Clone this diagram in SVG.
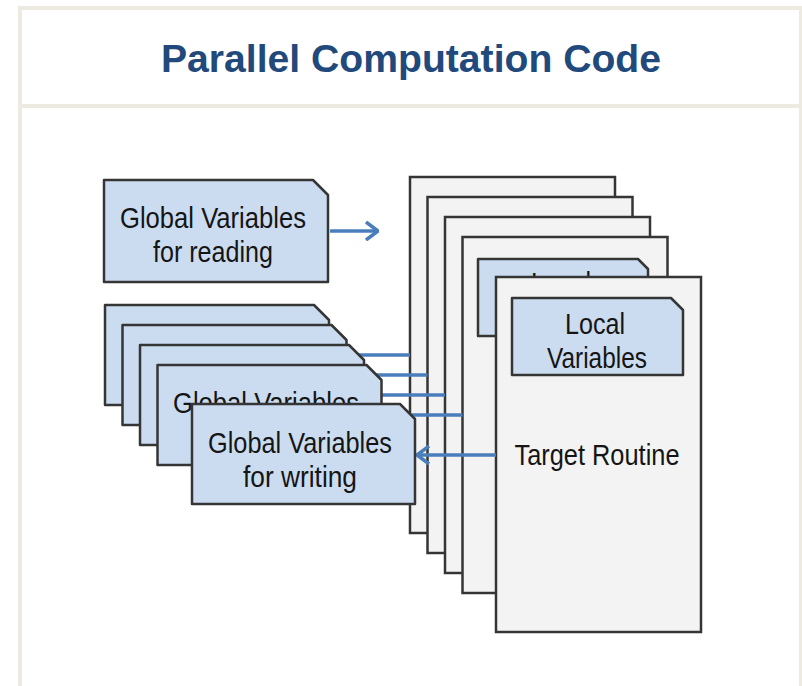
<svg xmlns="http://www.w3.org/2000/svg" width="802" height="686" viewBox="0 0 802 686">
  <defs>
    <style>
      .frame { fill: none; stroke: #edeae1; stroke-width: 4; }
      .title { font-family: "Liberation Sans", Arial, sans-serif; font-weight: bold; font-size: 39px; fill: #22497b; text-anchor: middle; }
      .lbl { font-family: "Liberation Sans", Arial, sans-serif; font-size: 29px; fill: #151515; text-anchor: middle; }
      .page { fill: #f3f3f3; stroke: #353535; stroke-width: 2.5; }
      .var { fill: #cbdcf1; stroke: #353535; stroke-width: 2.5; stroke-linejoin: round; }
      .link { fill: none; stroke: #4a7ebb; stroke-width: 3.5; }
    </style>
    <marker id="chev" viewBox="0 0 14 20" refX="13" refY="10" markerWidth="14" markerHeight="20" markerUnits="userSpaceOnUse" orient="auto">
      <path d="M1 1 L13 10 L1 19" fill="none" stroke="#4a7ebb" stroke-width="3.5"/>
    </marker>
  </defs>

  <rect width="802" height="686" fill="#ffffff"/>

  <!-- slide frame and header -->
  <g id="header">
    <rect class="frame" x="20" y="8" width="781" height="700"/>
    <line class="frame" x1="20" y1="106" x2="801" y2="106"/>
    <text class="title" x="411" y="72" textLength="500" lengthAdjust="spacingAndGlyphs">Parallel Computation Code</text>
  </g>

  <!-- stacked target routine instances -->
  <g id="routine-1"><rect class="page" x="410" y="177" width="205" height="356"/></g>
  <g id="routine-2"><rect class="page" x="427.5" y="197" width="205" height="356"/></g>
  <g id="routine-3"><rect class="page" x="445" y="217" width="205" height="356"/></g>
  <g id="routine-4">
    <rect class="page" x="462.5" y="237" width="205" height="356"/>
    <path class="var" d="M478 259 H638 L648 269 V336 H478 Z"/>
    <text class="lbl" x="561" y="293" textLength="60" lengthAdjust="spacingAndGlyphs">Local</text>
  </g>
  <g id="routine-5">
    <rect class="page" x="496" y="277" width="205" height="355"/>
    <path class="var" d="M512 298 H671 L683 310 V375 H512 Z"/>
    <text class="lbl" x="595" y="334" textLength="60" lengthAdjust="spacingAndGlyphs">Local</text>
    <text class="lbl" x="597" y="368" textLength="100" lengthAdjust="spacingAndGlyphs">Variables</text>
    <text class="lbl" x="597" y="465" textLength="165" lengthAdjust="spacingAndGlyphs">Target Routine</text>
  </g>

  <!-- connectors -->
  <g id="connectors">
    <line class="link" x1="330" y1="231" x2="378" y2="231" marker-end="url(#chev)"/>
    <line class="link" x1="320" y1="355" x2="410" y2="355"/>
    <line class="link" x1="340" y1="375" x2="427.5" y2="375"/>
    <line class="link" x1="360" y1="395" x2="445" y2="395"/>
    <line class="link" x1="400" y1="415" x2="462.5" y2="415"/>
    <line class="link" x1="496" y1="455" x2="417" y2="455" marker-end="url(#chev)"/>
  </g>

  <!-- global variables for reading -->
  <g id="global-read">
    <path class="var" d="M104 180 H313 L328 195 V282 H104 Z"/>
    <text class="lbl" x="213" y="228" textLength="186" lengthAdjust="spacingAndGlyphs">Global Variables</text>
    <text class="lbl" x="213" y="262" textLength="120" lengthAdjust="spacingAndGlyphs">for reading</text>
  </g>

  <!-- stacked global variables for writing -->
  <g id="global-write-1"><path class="var" d="M105 305 H314 L329 320 V405 H105 Z"/></g>
  <g id="global-write-2"><path class="var" d="M122.5 325 H331.5 L346.5 340 V425 H122.5 Z"/></g>
  <g id="global-write-3"><path class="var" d="M140 345 H349 L364 360 V445 H140 Z"/></g>
  <g id="global-write-4">
    <path class="var" d="M157.5 365 H366.5 L381.5 380 V465 H157.5 Z"/>
    <text class="lbl" x="266" y="413" textLength="186" lengthAdjust="spacingAndGlyphs">Global Variables</text>
  </g>
  <g id="global-write-5">
    <path class="var" d="M192 404 H400 L415 419 V504 H192 Z"/>
    <text class="lbl" x="300" y="453" textLength="184" lengthAdjust="spacingAndGlyphs">Global Variables</text>
    <text class="lbl" x="300" y="487" textLength="114" lengthAdjust="spacingAndGlyphs">for writing</text>
  </g>
</svg>
